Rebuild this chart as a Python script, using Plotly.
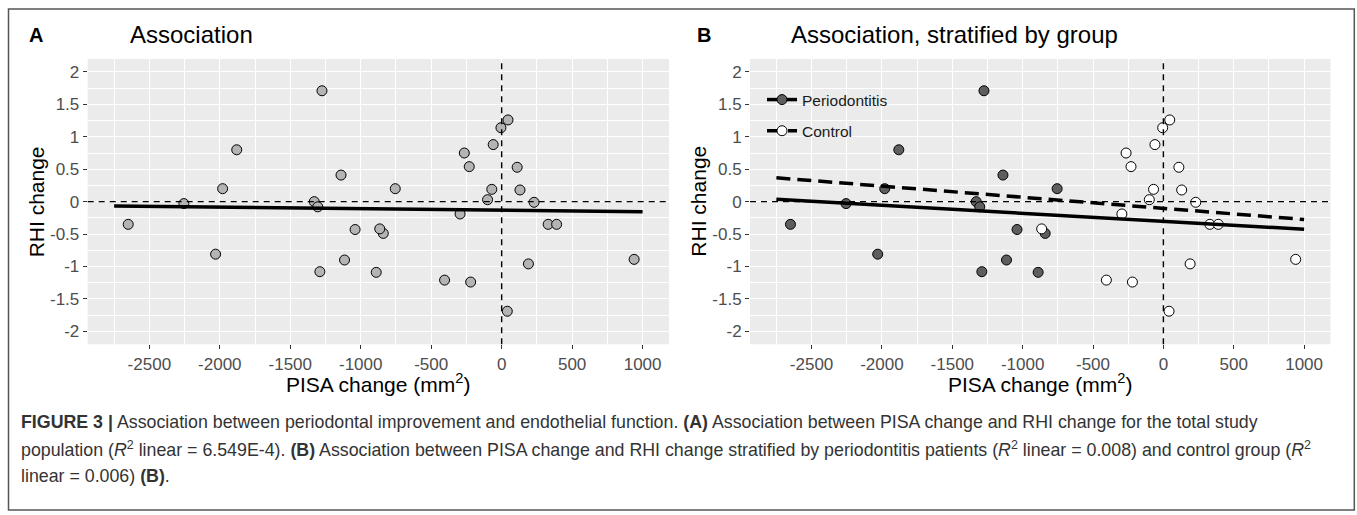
import plotly.graph_objects as go

# ---------------- data ----------------
peri_x = [-2650, -2255, -2030, -1980, -1880, -1330, -1305, -1290, -1275,
          -1140, -1115, -1040, -890, -840, -755]
peri_y = [-0.35, -0.03, -0.81, 0.20, 0.80, 0.00, -0.08, -1.08, 1.71,
          0.41, -0.90, -0.43, -1.09, -0.49, 0.20]

ctrl_x = [-865, -405, -295, -265, -230, -220, -100, -70, -60, -5, 40, 45,
          110, 130, 190, 230, 330, 390, 940]
ctrl_y = [-0.42, -1.21, -0.19, 0.75, 0.54, -1.24, 0.03, 0.19, 0.88, 1.14,
          -1.69, 1.26, 0.53, 0.18, -0.96, -0.01, -0.35, -0.35, -0.89]

all_x = peri_x + ctrl_x
all_y = peri_y + ctrl_y

# fitted regression lines (end points)
fit_x = [-2750, 1000]
fit_all_y = [-0.067, -0.156]
fit_peri_y = [0.036, -0.426]
fit_ctrl_y = [0.368, -0.275]

ref_x = 0
ref_y = 0

x_tick_vals = [-2500, -2000, -1500, -1000, -500, 0, 500, 1000]
x_tick_text = ["-2500", "-2000", "-1500", "-1000", "-500", "0", "500", "1000"]
y_tick_vals = [-2, -1.5, -1, -0.5, 0, 0.5, 1, 1.5, 2]
y_tick_text = ["-2", "-1.5", "-1", "-0.5", "0", "0.5", "1", "1.5", "2"]

group_names = ["Periodontitis", "Control"]

caption_lines = [
    "<b>FIGURE 3 |</b> Association between periodontal improvement and endothelial function. "
    "<b>(A)</b> Association between PISA change and RHI change for the total study",
    "population (<i>R</i><sup>2</sup> linear = 6.549E-4). <b>(B)</b> Association between PISA change "
    "and RHI change stratified by periodontitis patients (<i>R</i><sup>2</sup> linear = 0.008) "
    "and control group (<i>R</i><sup>2</sup>",
    "linear = 0.006) <b>(B)</b>.",
]

# ---------------- figure ----------------
W, H = 1357, 515
FONT = "Liberation Sans, Arial, Helvetica, sans-serif"

def px(v):
    return v / W

def py(v):
    return 1 - v / H

fig = go.Figure()

# Panel A
fig.add_trace(go.Scatter(
    x=all_x, y=all_y, mode="markers", xaxis="x", yaxis="y",
    marker=dict(size=10, color="#B4B4B4", line=dict(color="black", width=1)),
    showlegend=False, hoverinfo="skip"))
fig.add_trace(go.Scatter(
    x=fit_x, y=fit_all_y, mode="lines", xaxis="x", yaxis="y",
    line=dict(color="black", width=3.5), showlegend=False, hoverinfo="skip"))

# Panel B
fig.add_trace(go.Scatter(
    x=peri_x, y=peri_y, mode="markers", xaxis="x2", yaxis="y2",
    marker=dict(size=10, color="#5E5E5E", line=dict(color="black", width=1)),
    showlegend=False, hoverinfo="skip"))
fig.add_trace(go.Scatter(
    x=ctrl_x, y=ctrl_y, mode="markers", xaxis="x2", yaxis="y2",
    marker=dict(size=10, color="white", line=dict(color="black", width=1)),
    showlegend=False, hoverinfo="skip"))
fig.add_trace(go.Scatter(
    x=fit_x, y=fit_peri_y, mode="lines", xaxis="x2", yaxis="y2",
    line=dict(color="black", width=3.5), showlegend=False, hoverinfo="skip"))
fig.add_trace(go.Scatter(
    x=fit_x, y=fit_ctrl_y, mode="lines", xaxis="x2", yaxis="y2",
    line=dict(color="black", width=3.5, dash="14px,7px"),
    showlegend=False, hoverinfo="skip"))

# legend-only entries
fig.add_trace(go.Scatter(
    x=[None], y=[None], mode="lines+markers", xaxis="x2", yaxis="y2",
    name=group_names[0], legendgroup="g1",
    line=dict(color="black", width=3.5),
    marker=dict(size=10, color="#5E5E5E", line=dict(color="black", width=1))))
fig.add_trace(go.Scatter(
    x=[None], y=[None], mode="lines+markers", xaxis="x2", yaxis="y2",
    name=group_names[1], legendgroup="g2",
    line=dict(color="black", width=3.5, dash="14px,7px"),
    marker=dict(size=10, color="white", line=dict(color="black", width=1))))

xa = dict(
    range=[-2937.5, 1187.5], tickmode="array", tickvals=x_tick_vals, ticktext=x_tick_text,
    showgrid=True, gridcolor="white", gridwidth=1.1, zeroline=False, showline=False,
    ticks="outside", ticklen=4, tickwidth=1.1, tickcolor="#333333",
    tickfont=dict(family=FONT, size=17, color="#4D4D4D"),
    minor=dict(tick0=-2750, dtick=500, showgrid=True, gridcolor="white", gridwidth=0.55),
    fixedrange=True,
)
ya = dict(
    range=[-2.2, 2.2], tickmode="array", tickvals=y_tick_vals, ticktext=y_tick_text,
    showgrid=True, gridcolor="white", gridwidth=1.1, zeroline=False, showline=False,
    ticks="outside", ticklen=4, tickwidth=1.1, tickcolor="#333333",
    tickfont=dict(family=FONT, size=17, color="#4D4D4D"),
    minor=dict(tick0=-1.75, dtick=0.5, showgrid=True, gridcolor="white", gridwidth=0.55),
    fixedrange=True,
)

plot_top, plot_bottom = 59, 344.3
a_left, a_right = 87.7, 669.0
b_left, b_right = 750.0, 1330.5

fig.update_layout(
    width=W, height=H, autosize=False,
    margin=dict(l=0, r=0, t=0, b=0),
    paper_bgcolor="white", plot_bgcolor="#EBEBEB",
    font=dict(family=FONT, color="black"),
    xaxis=dict(xa, domain=[px(a_left), px(a_right)], anchor="y"),
    yaxis=dict(ya, domain=[py(plot_bottom), py(plot_top)], anchor="x"),
    xaxis2=dict(xa, domain=[px(b_left), px(b_right)], anchor="y2"),
    yaxis2=dict(ya, domain=[py(plot_bottom), py(plot_top)], anchor="x2"),
    legend=dict(x=px(762), y=py(83), xanchor="left", yanchor="top",
                bgcolor="rgba(0,0,0,0)", font=dict(family=FONT, size=15.5, color="#1A1A1A"),
                tracegroupgap=8, itemclick=False, itemdoubleclick=False),
    showlegend=True,
)

# dashed reference lines
shapes = []
for xr, yr in (("x", "y"), ("x2", "y2")):
    shapes.append(dict(type="line", xref=xr + " domain", x0=0, x1=1, yref=yr, y0=ref_y, y1=ref_y,
                       line=dict(color="black", width=1.4, dash="6px,5px")))
    shapes.append(dict(type="line", xref=xr, x0=ref_x, x1=ref_x, yref=yr + " domain", y0=0, y1=1,
                       line=dict(color="black", width=1.4, dash="6px,5px")))

# outer frame
shapes.append(dict(type="rect", xref="paper", yref="paper",
                   x0=px(8.5), x1=px(1354.3), y0=py(510), y1=py(9),
                   line=dict(color="#555555", width=1.5)))
fig.update_layout(shapes=shapes)

ann = []
# panel labels and titles
ann.append(dict(text="<b>A</b>", x=px(27), y=py(35), font=dict(size=20)))
ann.append(dict(text="Association", x=px(128), y=py(35), font=dict(size=24)))
ann.append(dict(text="<b>B</b>", x=px(695), y=py(35), font=dict(size=20)))
ann.append(dict(text="Association, stratified by group", x=px(789), y=py(35), font=dict(size=24)))
for a in ann:
    a.update(xref="paper", yref="paper", xanchor="left", yanchor="middle", showarrow=False)

# axis titles
for left, right in ((a_left, a_right), (b_left, b_right)):
    ann.append(dict(text="PISA change (mm<sup>2</sup>)", x=px((left + right) / 2), y=py(383),
                    xref="paper", yref="paper", xanchor="center", yanchor="middle",
                    showarrow=False, font=dict(size=21)))
    ann.append(dict(text="RHI change", x=px(left - 51), y=py((plot_top + plot_bottom) / 2),
                    xref="paper", yref="paper", xanchor="center", yanchor="middle",
                    textangle=-90, showarrow=False, font=dict(size=21)))

# caption
for i, line in enumerate(caption_lines):
    ann.append(dict(text=line, x=px(19), y=py(422 + 27 * i), xref="paper", yref="paper",
                    xanchor="left", yanchor="middle", showarrow=False, align="left",
                    font=dict(size=17.8, color="#333333")))

fig.update_layout(annotations=ann)

fig.write_html("out.html")
